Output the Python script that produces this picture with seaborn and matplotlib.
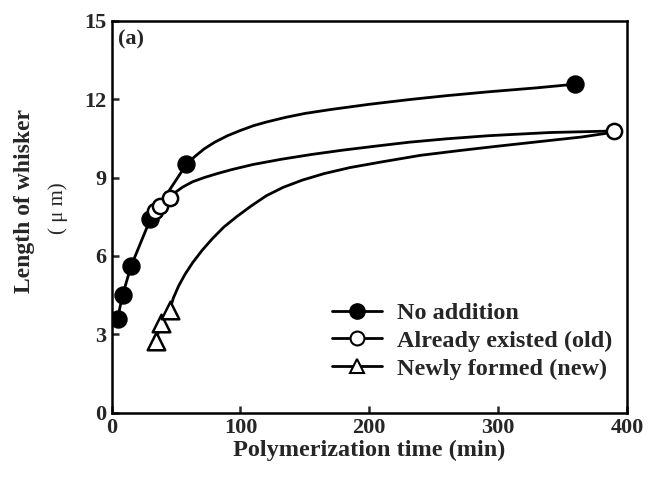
import numpy as np
import pandas as pd
import matplotlib
matplotlib.use("Agg")
import matplotlib.pyplot as plt
from matplotlib.lines import Line2D
import seaborn as sns

# ---- data ----
labels = ["No addition", "Already existed (old)", "Newly formed (new)"]

noadd_t = [4.6, 8.5, 15, 30, 58, 360]
noadd_len = [3.6, 4.5, 5.6, 7.4, 9.5, 12.57]

old_t = [33.5, 37.5, 45, 390]
old_len = [7.7, 7.92, 8.2, 10.78]

new_t = [34.3, 38.5, 45.2]
new_len = [2.74, 3.45, 3.95]

# drawn smooth guide curves
noadd_curve_t = [4.6, 8.5, 15, 30, 58, 65, 72, 80, 90, 100, 110, 120, 135, 150, 170,
                 200, 231, 260, 293, 330, 360]
noadd_curve_len = [3.6, 4.5, 5.6, 7.4, 9.5, 9.82, 10.1, 10.35, 10.6, 10.8, 10.98, 11.12,
                   11.3, 11.45, 11.6, 11.8, 11.98, 12.13, 12.28, 12.43, 12.57]

old_curve_t = [33.5, 37.5, 45, 50, 55, 63, 72, 82, 93, 110, 132, 155, 180, 205, 231,
               260, 293, 340, 390]
old_curve_len = [7.7, 7.92, 8.2, 8.45, 8.63, 8.84, 9.0, 9.15, 9.3, 9.5, 9.7, 9.88,
                 10.05, 10.2, 10.35, 10.48, 10.6, 10.72, 10.78]

new_curve_t = [34.3, 38.5, 45.2, 48, 52, 57, 63, 70, 78, 87, 97, 108, 120, 133, 148,
               165, 185, 210, 240, 270, 300, 337, 365, 388]
new_curve_len = [2.74, 3.45, 3.95, 4.4, 4.85, 5.3, 5.75, 6.2, 6.65, 7.1, 7.5, 7.9, 8.3,
                 8.62, 8.9, 9.15, 9.38, 9.6, 9.85, 10.03, 10.2, 10.4, 10.55, 10.72]

xticks = [0, 100, 200, 300, 400]
yticks = [0, 3, 6, 9, 12, 15]

# ---- style ----
sns.set_style("ticks")
plt.rcParams["font.family"] = ["Liberation Serif", "DejaVu Serif"]
plt.rcParams["font.weight"] = "bold"

fig = plt.figure(figsize=(6.49, 4.8), dpi=100)
ax = fig.add_axes([0.172, 0.140, 0.794, 0.817])

lw = 2.0
curves = [
    (noadd_curve_t, noadd_curve_len),
    (old_curve_t, old_curve_len),
    (new_curve_t, new_curve_len),
]
for t, v in curves:
    df = pd.DataFrame({"t": t, "v": v})
    sns.lineplot(data=df, x="t", y="v", ax=ax, color="black", lw=lw,
                 sort=False, estimator=None, zorder=2)

sns.scatterplot(x=noadd_t, y=noadd_len, ax=ax, marker="o", s=150,
                color="black", edgecolor="black", linewidth=1, zorder=4)
sns.scatterplot(x=old_t, y=old_len, ax=ax, marker="o", s=120,
                facecolor="white", edgecolor="black", linewidth=1.8, zorder=5)
sns.scatterplot(x=new_t, y=new_len, ax=ax, marker="^", s=160,
                facecolor="white", edgecolor="black", linewidth=1.8, zorder=5)

ax.set_xlim(0, 400)
ax.set_ylim(0, 15)
ax.set_xticks(xticks)
ax.set_yticks(yticks)
ax.tick_params(axis="both", direction="in", length=5, width=1.8,
               labelsize=16, pad=4)
ax.tick_params(axis="x", pad=4)
for lab in ax.get_xticklabels() + ax.get_yticklabels():
    lab.set_fontweight("bold")
for sp in ax.spines.values():
    sp.set_visible(True)
    sp.set_linewidth(1.8)
    sp.set_color("black")

ax.set_xlabel("Polymerization time (min)", fontsize=17.5, fontweight="bold", labelpad=1)
ax.set_ylabel("")

fig.text(0.038, 0.581, "Length of whisker", rotation=90, ha="center", va="center",
         fontsize=17, fontweight="bold")
fig.text(0.089, 0.567, "( μ m)", rotation=90, ha="center", va="center",
         fontsize=15, fontweight="normal")

ax.text(0.012, 0.951, "(a)", transform=ax.transAxes, ha="left", va="center",
        fontsize=16, fontweight="bold")

handles = [
    Line2D([], [], color="black", lw=lw, marker="o", markersize=11,
           markerfacecolor="black", markeredgecolor="black"),
    Line2D([], [], color="black", lw=lw, marker="o", markersize=10,
           markerfacecolor="white", markeredgecolor="black", markeredgewidth=1.5),
    Line2D([], [], color="black", lw=lw, marker="^", markersize=10,
           markerfacecolor="white", markeredgecolor="black", markeredgewidth=1.5),
]
leg = ax.legend(handles, labels, loc="upper left", bbox_to_anchor=(0.4275, 0.2824),
                frameon=False, borderpad=0, borderaxespad=0, handlelength=2.06,
                handletextpad=0.62, labelspacing=0.24,
                prop={"family": "Liberation Serif", "weight": "bold", "size": 17.5})

fig.savefig("out.png", dpi=100)
